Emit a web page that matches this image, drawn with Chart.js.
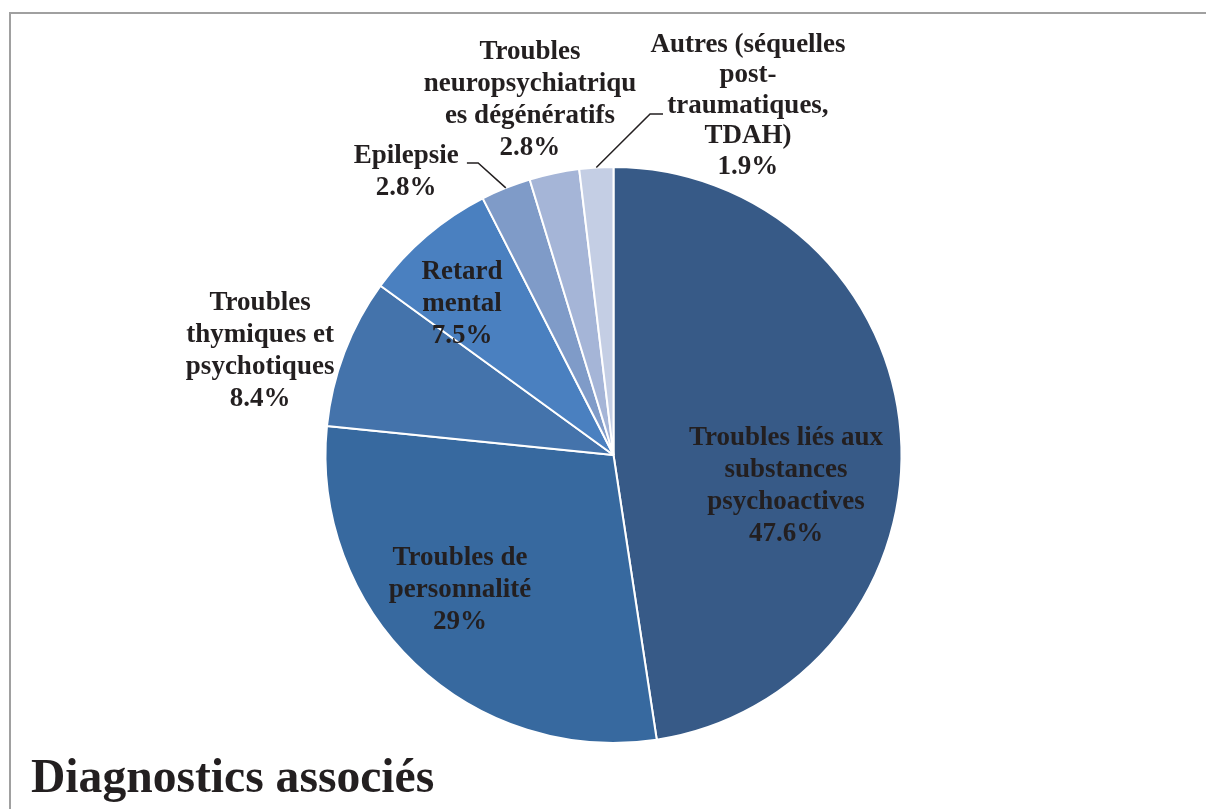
<!DOCTYPE html>
<html>
<head>
<meta charset="utf-8">
<script src="https://cdn.jsdelivr.net/npm/chart.js@4"></script>
<style>
html,body{margin:0;padding:0;background:#fff;}
#wrap{position:relative;width:1206px;height:809px;}
</style>
</head>
<body>
<div id="wrap"><canvas id="pieChart"></canvas></div>
<script>
const categories=[
    ['Troubles liés aux','substances','psychoactives'],
    ['Troubles de','personnalité'],
    ['Troubles','thymiques et','psychotiques'],
    ['Retard','mental'],
    ['Epilepsie'],
    ['Troubles','neuropsychiatriqu','es dégénératifs'],
    ['Autres (séquelles','post-','traumatiques,','TDAH)']
];
const values=[47.6,29,8.4,7.5,2.8,2.8,1.9];
const valueLabels=['47.6%','29%','8.4%','7.5%','2.8%','2.8%','1.9%'];
const colors=['#375a87','#37699f','#4473ab','#4a80c0','#7f9bc8','#a5b5d7','#c4cee4'];

// label block centres, as fractions of the radius from the pie centre
const labelPos=[[0.599,0.108],[-0.533,0.469],[-1.227,-0.361],[-0.526,-0.523],[-0.72,-0.983],[-0.29,-1.234],[0.467,-1.212]];
const lineHeights=[32,32,32,32,32,32,30.5];
// leader lines: elbow and end, as fractions of the radius
const leaders={4:[[-0.47,-1.014],[-0.509,-1.014]],6:[[0.127,-1.184],[0.172,-1.184]]};

const textColor='#231f20';
const font='bold 27px "Liberation Serif", "Times New Roman", serif';

const pieLabels={
    id:'pieLabels',
    beforeDraw(chart){
        const c=chart.ctx;
        c.save();
        c.strokeStyle='#a0a0a0';
        c.lineWidth=2;
        c.beginPath();
        c.moveTo(10,809);
        c.lineTo(10,13);
        c.lineTo(1206,13);
        c.stroke();
        c.restore();
    },
    afterDatasetsDraw(chart){
        const c=chart.ctx;
        const meta=chart.getDatasetMeta(0);
        c.save();
        c.font=font;
        c.fillStyle=textColor;
        c.textAlign='center';
        c.textBaseline='middle';
        meta.data.forEach((arc,i)=>{
            const p=arc.getProps(['x','y','startAngle','endAngle','outerRadius'],true);
            const R=p.outerRadius;
            const lines=categories[i].concat([valueLabels[i]]);
            const cx=p.x+labelPos[i][0]*R;
            const cy=p.y+labelPos[i][1]*R;
            const lh=lineHeights[i];
            const top=cy-(lines.length-1)*lh/2;
            lines.forEach((t,k)=>c.fillText(t,cx,top+k*lh));
            if(leaders[i]){
                const mid=(p.startAngle+p.endAngle)/2;
                c.strokeStyle=textColor;
                c.lineWidth=1.5;
                c.beginPath();
                c.moveTo(p.x+Math.cos(mid)*R,p.y+Math.sin(mid)*R);
                c.lineTo(p.x+leaders[i][0][0]*R,p.y+leaders[i][0][1]*R);
                c.lineTo(p.x+leaders[i][1][0]*R,p.y+leaders[i][1][1]*R);
                c.stroke();
            }
        });
        // title
        c.font='bold 47.6px "Liberation Serif", "Times New Roman", serif';
        c.textAlign='left';
        c.textBaseline='alphabetic';
        c.fillText('Diagnostics associés',31,792);
        c.restore();
    }
};

new Chart(document.getElementById('pieChart'),{
    type:'pie',
    data:{
        labels:categories.map(l=>l.join(' ')),
        datasets:[{
            data:values,
            backgroundColor:colors,
            borderColor:'#ffffff',
            borderWidth:2,
            hoverOffset:0
        }]
    },
    options:{
        responsive:true,
        maintainAspectRatio:false,
        animation:false,
        layout:{padding:{left:324.5,right:303.5,top:166,bottom:65}},
        plugins:{
            legend:{display:false},
            tooltip:{enabled:false}
        }
    },
    plugins:[pieLabels]
});
</script>
</body>
</html>
